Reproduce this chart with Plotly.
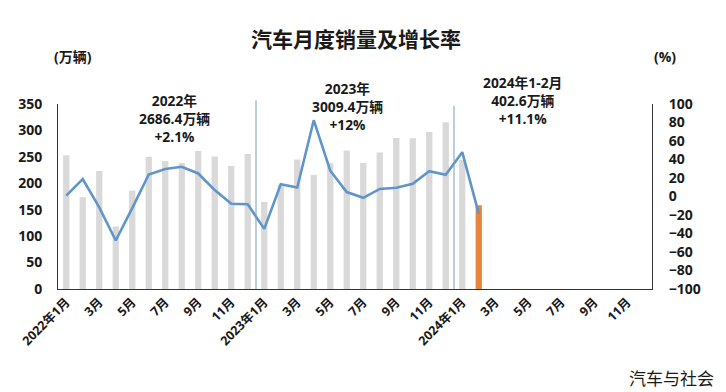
import plotly.graph_objects as go

months = [f"{y}年{m}月" for y in (2022, 2023, 2024) for m in range(1, 13)]
sales_2022 = [253.1, 173.7, 223.4, 118.1, 186.2, 250.2, 242.0, 238.3, 261.0, 250.6, 232.7, 255.6]
sales_2023 = [164.9, 197.6, 245.1, 215.9, 238.2, 262.2, 238.7, 258.2, 285.8, 285.3, 297.0, 315.6]
sales_2024 = [243.9, 158.4]
growth_2022 = [0.9, 18.7, -11.7, -47.6, -12.6, 23.8, 29.7, 32.1, 24.9, 6.9, -7.9, -8.4]
growth_2023 = [-35.0, 13.2, 9.7, 82.5, 27.9, 4.8, -1.4, 8.2, 9.5, 13.8, 27.4, 23.5]
growth_2024 = [47.9, -18.5]
tick_idx = list(range(0, 36, 2))
tick_labels = [months[i] if i % 12 == 0 else months[i].split("年")[1] for i in tick_idx]

sales = sales_2022 + sales_2023 + sales_2024
growth = growth_2022 + growth_2023 + growth_2024
n = len(sales)
pad = [None] * (36 - n)

bar_colors = ["#D9D9D9"] * (n - 1) + ["#E8853D"]

FONT = "Open Sans, Noto Sans CJK SC, sans-serif"

fig = go.Figure()
fig.add_trace(go.Bar(x=months, y=sales + pad, marker=dict(color=bar_colors + ["#D9D9D9"] * len(pad), line=dict(width=0)),
                     yaxis="y", showlegend=False, hoverinfo="skip"))
fig.add_trace(go.Scatter(x=months[:n], y=growth, mode="lines", line=dict(color="#5F95C9", width=2.6),
                         yaxis="y2", showlegend=False))

fig.update_layout(
    width=726, height=392,
    margin=dict(l=58, r=74, t=104, b=103),
    paper_bgcolor="white", plot_bgcolor="white",
    bargap=0.62,
    font=dict(family=FONT, color="#1a1a1a"),
    xaxis=dict(type="category", categoryorder="array", categoryarray=months,
               range=[-0.5, 35.5], tickmode="array", tickvals=[months[i] for i in tick_idx], ticktext=tick_labels,
               tickangle=-45, tickfont=dict(size=12.5, family=FONT, color="#1a1a1a", weight="bold"),
               showline=True, linecolor="#333333", linewidth=1, ticks="", showgrid=False),
    yaxis=dict(range=[0, 350], dtick=50, showgrid=False, zeroline=False,
               showline=True, linecolor="#333333", linewidth=1, ticks="", ticklabelstandoff=12,
               tickfont=dict(size=14, family=FONT, color="#1a1a1a", weight="bold")),
    yaxis2=dict(range=[-100, 100], dtick=20, overlaying="y", side="right", showgrid=False, zeroline=False,
                showline=True, linecolor="#333333", linewidth=1, ticks="", ticklabelstandoff=13,
                tickfont=dict(size=14, family=FONT, color="#1a1a1a", weight="bold")),
    shapes=[
        dict(type="line", xref="x", yref="paper", x0=11.5, x1=11.5, y0=0, y1=1.02,
             line=dict(color="#7C9CBC", width=1)),
        dict(type="line", xref="x", yref="paper", x0=23.5, x1=23.5, y0=0, y1=0.99,
             line=dict(color="#7C9CBC", width=1)),
    ],
)

ann_font = dict(size=13.8, family=FONT, color="#1a1a1a", weight="bold")
fig.add_annotation(text="汽车月度销量及增长率", xref="paper", yref="paper", x=(356 - 58) / 594, y=(289 - 38) / 185,
                   showarrow=False, font=dict(size=21, family="Noto Sans CJK SC", color="#1a1a1a", weight="bold"),
                   xanchor="center", yanchor="middle")
fig.add_annotation(text="(万辆)", xref="paper", yref="paper", x=(52 - 58) / 594, y=(289 - 57) / 185,
                   showarrow=False, font=dict(size=14, family=FONT, color="#1a1a1a", weight="bold"),
                   xanchor="left", yanchor="middle")
fig.add_annotation(text="(%)", xref="paper", yref="paper", x=(652 - 58) / 594, y=(289 - 56) / 185,
                   showarrow=False, font=dict(size=14, family=FONT, color="#1a1a1a", weight="bold"),
                   xanchor="left", yanchor="middle")
for txt, cx, cy in [("2022年<br>2686.4万辆<br>+2.1%", 174, 118),
                    ("2023年<br>3009.4万辆<br>+12%", 347, 107),
                    ("2024年1-2月<br>402.6万辆<br>+11.1%", 522, 100)]:
    fig.add_annotation(text=txt, xref="paper", yref="paper", x=(cx - 58) / 594, y=(289 - cy) / 185,
                       showarrow=False, font=ann_font, xanchor="center", yanchor="middle", align="center")
fig.add_annotation(text="汽车与社会", xref="paper", yref="paper", x=(716 - 58) / 594, y=(289 - 377) / 185,
                   showarrow=False, font=dict(size=17, family="Noto Sans CJK SC", color="#1a1a1a"),
                   xanchor="right", yanchor="middle")

fig.write_html("out.html", config={"displayModeBar": False},
               post_script="document.body.style.margin='0';document.body.style.overflow='hidden';")
